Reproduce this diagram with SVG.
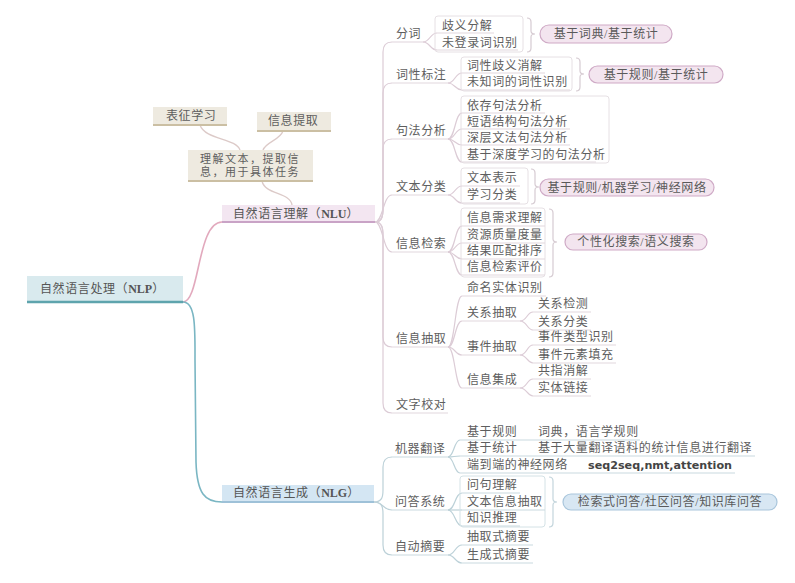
<svg xmlns="http://www.w3.org/2000/svg" width="795" height="583" viewBox="0 0 795 583">
<style>
text { font-family: "Liberation Serif", "Noto Sans CJK SC", serif; font-size: 12px; fill: #5e5e5e; letter-spacing: 0.6px; dominant-baseline: central; }
.pill-t { text-anchor: middle; fill: #5a5a5a; }
.lu { stroke: #dcccd6; stroke-width: 1.2; fill: none; }
.lg { stroke: #bcd1d8; stroke-width: 1.2; fill: none; }
.ulu { stroke: #e2d7de; stroke-width: 1.1; fill: none; }
.ulg { stroke: #c9dadf; stroke-width: 1.1; fill: none; }
.grp { fill: none; stroke: #e6e0e4; stroke-width: 1; }
.grpg { fill: none; stroke: #d4e2e6; stroke-width: 1; }
.brace { fill: none; stroke: #d6cbd2; stroke-width: 1.2; }
.braceg { fill: none; stroke: #c3d5dc; stroke-width: 1.2; }
.pink { fill: #f3e5ef; stroke: #cfaac6; stroke-width: 1.2; }
.blue { fill: #d8e7f3; stroke: #a9c6dc; stroke-width: 1.2; }
.beige { fill: #eeeae0; }
.beige-b { stroke: #cbbfa3; stroke-width: 2; }
.lb { stroke: #dccac8; stroke-width: 1.3; fill: none; }
.two { font-size: 11px; letter-spacing: 1.5px; }
</style>
<rect width="795" height="583" fill="#ffffff"/>

<g id="connectors">
  <!-- root branches -->
  <path d="M183,302 C200,302 197,222 222,222" stroke="#e2a9bd" stroke-width="1.6" fill="none"/>
  <path d="M183,302 C196,302 195,330 195,360 L196,462 C197,494 205,502 222,502" stroke="#7ab6c3" stroke-width="1.6" fill="none"/>
  <!-- NLU to explanation -->
  <path class="lb" d="M292,205 C290,192 265,195 262,181"/>
  <path class="lb" d="M240,150 C236,138 205,140 200,125"/>
  <path class="lb" d="M263,150 C266,142 280,140 283,131"/>

  <!-- NLU spine -->
  <path class="lu" d="M375,222 C382,222 383,216 383,208 L383,52 C383,45 386,42 392,42"/>
  <path class="lu" d="M375,222 C382,222 383,216 383,208 L383,93 C383,86 386,83 392,83"/>
  <path class="lu" d="M375,222 C382,222 383,216 383,208 L383,149 C383,142 386,139 392,139"/>
  <path class="lu" d="M375,222 C383,222 383,195 392,195"/>
  <path class="lu" d="M375,222 C383,222 383,252 392,252"/>
  <path class="lu" d="M375,222 C382,222 383,228 383,236 L383,337 C383,344 386,347 392,347"/>
  <path class="lu" d="M375,222 C382,222 383,228 383,236 L383,403 C383,410 386,413 392,413"/>

  <!-- 分词 -->
  <path class="lu" d="M423,42 C430,42 430,33 437,33"/>
  <path class="lu" d="M423,42 C430,42 430,50 437,50"/>
  <!-- 词性标注 -->
  <path class="lu" d="M448,83 C455,83 455,73 462,73"/>
  <path class="lu" d="M448,83 C455,83 455,90 462,90"/>
  <!-- 句法分析 -->
  <path class="lu" d="M448,139 C455,139 455,113 462,113"/>
  <path class="lu" d="M448,139 C455,139 455,129 462,129"/>
  <path class="lu" d="M448,139 C455,139 455,145 462,145"/>
  <path class="lu" d="M448,139 C455,139 455,162 462,162"/>
  <!-- 文本分类 -->
  <path class="lu" d="M448,195 C455,195 455,186 462,186"/>
  <path class="lu" d="M448,195 C455,195 455,203 462,203"/>
  <!-- 信息检索 -->
  <path class="lu" d="M448,252 C455,252 455,226 462,226"/>
  <path class="lu" d="M448,252 C455,252 455,243 462,243"/>
  <path class="lu" d="M448,252 C455,252 455,259 462,259"/>
  <path class="lu" d="M448,252 C455,252 455,275 462,275"/>
  <!-- 信息抽取 -->
  <path class="lu" d="M448,347 C455,347 455,296 462,296"/>
  <path class="lu" d="M448,347 C455,347 455,321 462,321"/>
  <path class="lu" d="M448,347 C455,347 455,355 462,355"/>
  <path class="lu" d="M448,347 C455,347 455,388 462,388"/>
  <path class="lu" d="M520,321 C527,321 527,312 533,312"/>
  <path class="lu" d="M520,321 C527,321 527,330 533,330"/>
  <path class="lu" d="M520,355 C527,355 527,345 533,345"/>
  <path class="lu" d="M520,355 C527,355 527,363 533,363"/>
  <path class="lu" d="M520,388 C527,388 527,379 533,379"/>
  <path class="lu" d="M520,388 C527,388 527,396 533,396"/>

  <!-- NLG spine -->
  <path class="lg" d="M374,502 C382,502 383,497 383,490 L383,467 C383,460 386,457 392,457"/>
  <path class="lg" d="M374,502 C383,502 383,510 392,510"/>
  <path class="lg" d="M374,502 C382,502 383,507 383,514 L383,545 C383,552 386,555 392,555"/>
  <!-- 机器翻译 -->
  <path class="lg" d="M448,457 C454,457 454,440 460,440"/>
  <path class="lg" d="M448,457 C454,457 454,456 460,456"/>
  <path class="lg" d="M448,457 C454,457 454,473 460,473"/>
  <!-- 问答系统 -->
  <path class="lg" d="M448,510 C455,510 455,493 462,493"/>
  <path class="lg" d="M448,510 C455,510 455,510 462,510"/>
  <path class="lg" d="M448,510 C455,510 455,526 462,526"/>
  <!-- 自动摘要 -->
  <path class="lg" d="M448,555 C455,555 455,545 462,545"/>
  <path class="lg" d="M448,555 C455,555 455,563 462,563"/>
</g>

<g id="nlp">
  <rect x="27" y="276" width="156" height="26" fill="#d9eaee"/>
  <line x1="27" y1="302" x2="183" y2="302" stroke="#5ea4ad" stroke-width="2.5"/>
  <text x="40" y="289" style="fill:#555">自然语言处理（<tspan font-weight="bold" letter-spacing="0">NLP</tspan>）</text>
</g>

<g id="nlu">
  <rect x="222" y="205" width="153" height="17" fill="#f3e6f1"/>
  <line x1="222" y1="222" x2="375" y2="222" stroke="#c9a3c6" stroke-width="2"/>
  <text x="233" y="214" style="fill:#555">自然语言理解（<tspan font-weight="bold" letter-spacing="0">NLU</tspan>）</text>
</g>

<g id="nlg">
  <rect x="222" y="485" width="152" height="17" fill="#d4e6f3"/>
  <line x1="222" y1="502" x2="374" y2="502" stroke="#9ec1d8" stroke-width="2"/>
  <text x="233" y="493" style="fill:#555">自然语言生成（<tspan font-weight="bold" letter-spacing="0">NLG</tspan>）</text>
</g>

<g id="understand">
  <rect class="beige" x="188" y="150" width="125" height="31"/>
  <line class="beige-b" x1="188" y1="181" x2="313" y2="181"/>
  <text class="two" x="200" y="159">理解文本，提取信</text>
  <text class="two" x="200" y="172">息，用于具体任务</text>
</g>
<g id="repr">
  <rect class="beige" x="153" y="107" width="74" height="18"/>
  <line class="beige-b" x1="153" y1="125" x2="227" y2="125"/>
  <text x="166" y="116">表征学习</text>
</g>
<g id="extract">
  <rect class="beige" x="257" y="112" width="74" height="19"/>
  <line class="beige-b" x1="257" y1="131" x2="331" y2="131"/>
  <text x="268" y="121">信息提取</text>
</g>

<!-- NLU level 2 -->
<g id="fenci">
  <text x="396" y="34">分词</text>
  <line class="ulu" x1="392" y1="42" x2="423" y2="42"/>
</g>
<g id="cixing">
  <text x="396" y="75">词性标注</text>
  <line class="ulu" x1="392" y1="83" x2="448" y2="83"/>
</g>
<g id="jufa">
  <text x="396" y="131">句法分析</text>
  <line class="ulu" x1="392" y1="139" x2="448" y2="139"/>
</g>
<g id="wenben">
  <text x="396" y="187">文本分类</text>
  <line class="ulu" x1="392" y1="195" x2="448" y2="195"/>
</g>
<g id="jiansuo">
  <text x="396" y="244">信息检索</text>
  <line class="ulu" x1="392" y1="252" x2="448" y2="252"/>
</g>
<g id="chouqu">
  <text x="396" y="339">信息抽取</text>
  <line class="ulu" x1="392" y1="347" x2="448" y2="347"/>
</g>
<g id="jiaodui">
  <text x="396" y="405">文字校对</text>
  <line class="ulu" x1="392" y1="413" x2="448" y2="413"/>
</g>

<!-- 分词 group -->
<g id="fenci-items">
  <rect class="grp" x="435" y="16" width="88" height="36" rx="3"/>
  <text x="442" y="26">歧义分解</text>
  <line class="ulu" x1="437" y1="33" x2="494" y2="33"/>
  <text x="442" y="43">未登录词识别</text>
  <line class="ulu" x1="437" y1="50" x2="518" y2="50"/>
  <path class="brace" d="M527,18 Q531,18 531,22 L531,31 Q531,34 535,34 Q531,34 531,37 L531,48 Q531,52 527,52"/>
</g>
<g id="pill-1">
  <rect class="pink" x="540" y="25" width="132" height="18" rx="9"/>
  <text class="pill-t" x="606" y="34">基于词典/基于统计</text>
</g>

<!-- 词性标注 group -->
<g id="cixing-items">
  <rect class="grp" x="461" y="57" width="111" height="34" rx="3"/>
  <text x="467" y="66">词性歧义消解</text>
  <line class="ulu" x1="462" y1="73" x2="545" y2="73"/>
  <text x="467" y="82">未知词的词性识别</text>
  <line class="ulu" x1="462" y1="90" x2="570" y2="90"/>
  <path class="brace" d="M576,58 Q580,58 580,62 L580,71 Q580,74 584,74 Q580,74 580,77 L580,87 Q580,91 576,91"/>
</g>
<g id="pill-2">
  <rect class="pink" x="589" y="66" width="134" height="17" rx="8.5"/>
  <text class="pill-t" x="656" y="74.5">基于规则/基于统计</text>
</g>

<!-- 句法分析 group -->
<g id="jufa-items">
  <rect class="grp" x="461" y="96" width="148" height="67" rx="3"/>
  <text x="467" y="106">依存句法分析</text>
  <line class="ulu" x1="462" y1="113" x2="545" y2="113"/>
  <text x="467" y="122">短语结构句法分析</text>
  <line class="ulu" x1="462" y1="129" x2="570" y2="129"/>
  <text x="467" y="138">深层文法句法分析</text>
  <line class="ulu" x1="462" y1="145" x2="570" y2="145"/>
  <text x="467" y="155">基于深度学习的句法分析</text>
  <line class="ulu" x1="462" y1="162" x2="596" y2="162"/>
</g>

<!-- 文本分类 group -->
<g id="wenben-items">
  <rect class="grp" x="461" y="168" width="67" height="36" rx="3"/>
  <text x="467" y="178">文本表示</text>
  <line class="ulu" x1="462" y1="186" x2="520" y2="186"/>
  <text x="467" y="195">学习分类</text>
  <line class="ulu" x1="462" y1="203" x2="520" y2="203"/>
  <path class="brace" d="M531,169 Q535,169 535,173 L535,184 Q535,187 539,187 Q535,187 535,190 L535,200 Q535,204 531,204"/>
</g>
<g id="pill-3">
  <rect class="pink" x="540" y="179" width="174" height="17" rx="8.5"/>
  <text class="pill-t" x="627" y="187.5">基于规则/机器学习/神经网络</text>
</g>

<!-- 信息检索 group -->
<g id="jiansuo-items">
  <rect class="grp" x="461" y="208" width="84" height="69" rx="3"/>
  <text x="467" y="218">信息需求理解</text>
  <line class="ulu" x1="462" y1="226" x2="545" y2="226"/>
  <text x="467" y="235">资源质量度量</text>
  <line class="ulu" x1="462" y1="243" x2="545" y2="243"/>
  <text x="467" y="251">结果匹配排序</text>
  <line class="ulu" x1="462" y1="259" x2="545" y2="259"/>
  <text x="467" y="267">信息检索评价</text>
  <line class="ulu" x1="462" y1="275" x2="545" y2="275"/>
  <path class="brace" d="M549,209 Q553,209 553,213 L553,239 Q553,242 557,242 Q553,242 553,245 L553,273 Q553,277 549,277"/>
</g>
<g id="pill-4">
  <rect class="pink" x="565" y="234" width="142" height="16" rx="8"/>
  <text class="pill-t" x="636" y="242">个性化搜索/语义搜索</text>
</g>

<!-- 信息抽取 subtree -->
<g id="chouqu-items">
  <text x="467" y="288">命名实体识别</text>
  <line class="ulu" x1="462" y1="296" x2="546" y2="296"/>
  <text x="467" y="313">关系抽取</text>
  <line class="ulu" x1="462" y1="321" x2="520" y2="321"/>
  <text x="467" y="347">事件抽取</text>
  <line class="ulu" x1="462" y1="355" x2="520" y2="355"/>
  <text x="467" y="380">信息集成</text>
  <line class="ulu" x1="462" y1="388" x2="520" y2="388"/>
</g>
<g id="chouqu-leaves">
  <text x="538" y="304">关系检测</text>
  <line class="ulu" x1="533" y1="312" x2="591" y2="312"/>
  <text x="538" y="322">关系分类</text>
  <line class="ulu" x1="533" y1="330" x2="591" y2="330"/>
  <text x="538" y="337">事件类型识别</text>
  <line class="ulu" x1="533" y1="345" x2="616" y2="345"/>
  <text x="538" y="355">事件元素填充</text>
  <line class="ulu" x1="533" y1="363" x2="616" y2="363"/>
  <text x="538" y="371">共指消解</text>
  <line class="ulu" x1="533" y1="379" x2="591" y2="379"/>
  <text x="538" y="388">实体链接</text>
  <line class="ulu" x1="533" y1="396" x2="591" y2="396"/>
</g>

<!-- NLG level 2 -->
<g id="fanyi">
  <text x="395" y="449">机器翻译</text>
  <line class="ulg" x1="392" y1="457" x2="448" y2="457"/>
</g>
<g id="wenda">
  <text x="395" y="502">问答系统</text>
  <line class="ulg" x1="392" y1="510" x2="448" y2="510"/>
</g>
<g id="zhaiyao">
  <text x="395" y="547">自动摘要</text>
  <line class="ulg" x1="392" y1="555" x2="448" y2="555"/>
</g>

<g id="fanyi-items">
  <text x="467" y="432">基于规则</text>
  <text x="538" y="432">词典，语言学规则</text>
  <line class="ulg" x1="460" y1="440" x2="640" y2="440"/>
  <text x="467" y="448">基于统计</text>
  <text x="538" y="448">基于大量翻译语料的统计信息进行翻译</text>
  <line class="ulg" x1="460" y1="456" x2="755" y2="456"/>
  <text x="467" y="465">端到端的神经网络</text>
  <text x="588" y="465" style="font-family:'DejaVu Sans',sans-serif;font-weight:bold;font-size:11px;letter-spacing:0;fill:#444" textLength="144" lengthAdjust="spacingAndGlyphs">seq2seq,nmt,attention</text>
  <line class="ulg" x1="460" y1="473" x2="735" y2="473"/>
</g>

<g id="wenda-items">
  <rect class="grpg" x="460" y="476" width="85" height="51" rx="3"/>
  <text x="467" y="485">问句理解</text>
  <line class="ulg" x1="462" y1="493" x2="520" y2="493"/>
  <text x="467" y="502">文本信息抽取</text>
  <line class="ulg" x1="462" y1="510" x2="545" y2="510"/>
  <text x="467" y="518">知识推理</text>
  <line class="ulg" x1="462" y1="526" x2="520" y2="526"/>
  <path class="braceg" d="M549,477 Q553,477 553,481 L553,499 Q553,502 557,502 Q553,502 553,505 L553,523 Q553,527 549,527"/>
</g>
<g id="pill-5">
  <rect class="blue" x="563" y="494" width="214" height="16" rx="8"/>
  <text class="pill-t" x="670" y="502">检索式问答/社区问答/知识库问答</text>
</g>

<g id="zhaiyao-items">
  <text x="467" y="537">抽取式摘要</text>
  <line class="ulg" x1="462" y1="545" x2="533" y2="545"/>
  <text x="467" y="555">生成式摘要</text>
  <line class="ulg" x1="462" y1="563" x2="533" y2="563"/>
</g>
</svg>
